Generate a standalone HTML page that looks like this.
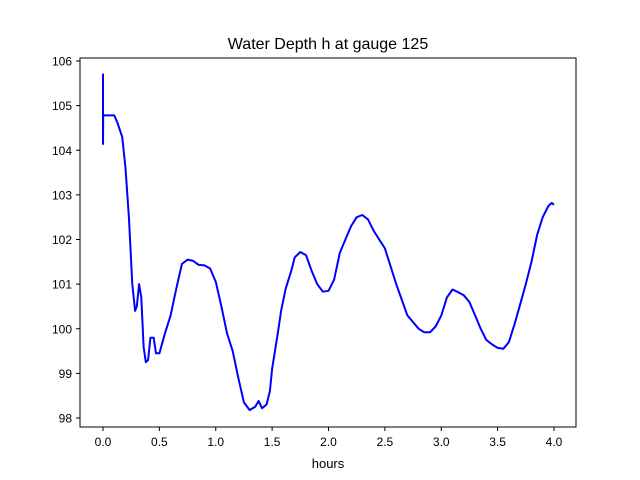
<!DOCTYPE html>
<html><head><meta charset="utf-8"><style>
body{margin:0;background:#fff}
svg{display:block;font-family:"Liberation Sans","DejaVu Sans",sans-serif}
</style></head><body>
<svg id="chart" width="640" height="480">
<rect width="640" height="480" fill="#fff"/>
<text x="328" y="49" font-size="16" text-anchor="middle">Water Depth h at gauge 125</text>
<g id="ticks"></g>
<path id="line" fill="none" stroke="#0000ff" stroke-width="2" stroke-linejoin="round"/>
<rect x="80" y="58" width="496" height="369" fill="none" stroke="#000" stroke-width="1"/>
<text x="328" y="468" font-size="13" text-anchor="middle">hours</text>
</svg>
<script>
const hours=[0,0,0,0.002,0.01,0.1,0.13,0.17,0.2,0.23,0.26,0.285,0.3,0.32,0.34,0.36,0.38,0.4,0.42,0.45,0.47,0.5,0.55,0.6,0.65,0.7,0.75,0.8,0.85,0.9,0.95,1.0,1.05,1.1,1.15,1.2,1.25,1.3,1.35,1.38,1.41,1.45,1.48,1.5,1.55,1.58,1.62,1.67,1.7,1.75,1.8,1.85,1.9,1.95,2.0,2.05,2.1,2.15,2.2,2.25,2.3,2.35,2.4,2.5,2.6,2.7,2.8,2.85,2.9,2.95,3.0,3.05,3.1,3.15,3.2,3.25,3.3,3.35,3.4,3.45,3.5,3.55,3.6,3.65,3.7,3.75,3.8,3.85,3.9,3.95,3.98,4.0];
const depth=[104.8,105.7,104.14,104.8,104.78,104.78,104.6,104.3,103.6,102.5,101.0,100.4,100.5,101.0,100.7,99.6,99.25,99.3,99.8,99.8,99.45,99.45,99.9,100.3,100.9,101.45,101.55,101.52,101.43,101.42,101.35,101.05,100.5,99.9,99.5,98.9,98.35,98.18,98.25,98.38,98.22,98.3,98.6,99.1,99.9,100.4,100.9,101.3,101.6,101.72,101.65,101.3,101.0,100.83,100.85,101.1,101.7,102.0,102.3,102.5,102.55,102.45,102.2,101.8,101.0,100.3,100.0,99.92,99.92,100.05,100.3,100.7,100.88,100.82,100.75,100.6,100.3,100.0,99.75,99.65,99.57,99.55,99.7,100.1,100.55,101.0,101.5,102.1,102.5,102.75,102.82,102.78];
const xTicks=[0,0.5,1,1.5,2,2.5,3,3.5,4];
const xTickLabels=["0.0","0.5","1.0","1.5","2.0","2.5","3.0","3.5","4.0"];
const yTicks=[98,99,100,101,102,103,104,105,106];
const X=v=>103+v*112.75, Y=v=>61+(106-v)*44.625;
const NS="http://www.w3.org/2000/svg";
const g=document.getElementById('ticks');
function mk(t,a){const e=document.createElementNS(NS,t);for(const k in a)e.setAttribute(k,a[k]);g.appendChild(e);return e;}
xTicks.forEach((v,i)=>{
 const l=mk('line',{x1:X(v),x2:X(v),y1:427,y2:431,stroke:'#000'});
 
 
 const t=mk('text',{x:X(v),y:446,'font-size':12,'text-anchor':'middle'});
 t.textContent=xTickLabels[i];
 
 
});
yTicks.forEach(v=>{
 const l=mk('line',{x1:76,x2:80,y1:Y(v),y2:Y(v),stroke:'#000'});
 
 
 const t=mk('text',{x:72,y:Y(v)+4.5,'font-size':12,'text-anchor':'end'});
 t.textContent=String(v);
 
 
});
document.getElementById('line').setAttribute('d',hours.map((h,i)=>(i?'L':'M')+X(h).toFixed(1)+','+Y(depth[i]).toFixed(1)).join(''));
</script>
</body></html>
